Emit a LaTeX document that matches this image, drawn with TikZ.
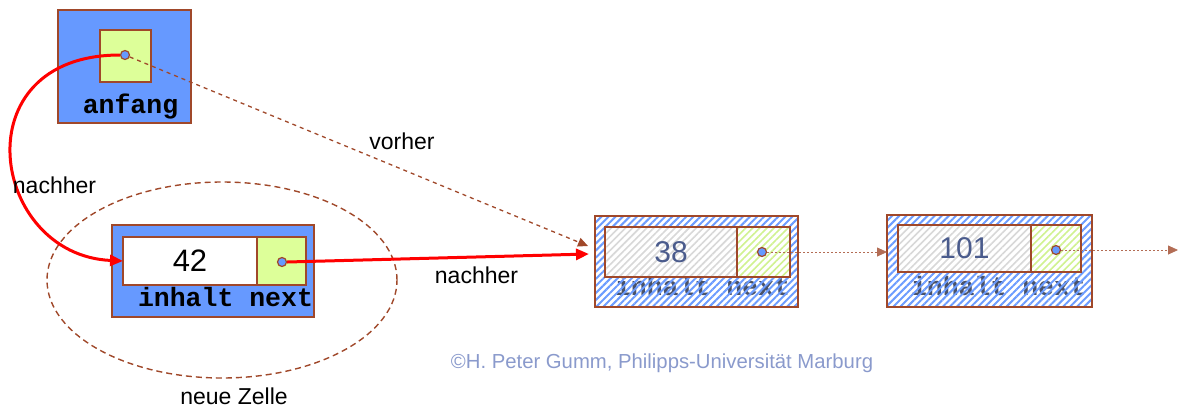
\documentclass[tikz,border=0pt]{standalone}
\usepackage{fontspec}
\setmainfont{Liberation Sans}
\newfontfamily\cour{Liberation Mono}
\usetikzlibrary{arrows.meta,patterns.meta,shapes.geometric}
\definecolor{bluefill}{HTML}{6699FF}
\definecolor{yel}{HTML}{DDFF99}
\definecolor{brn}{HTML}{A0482A}
\definecolor{slate}{HTML}{4A5B8C}
\definecolor{copyc}{HTML}{8A9ACC}
\definecolor{hgray}{HTML}{D8D8D8}
\definecolor{hblue}{HTML}{6C9CFF}
\definecolor{hgreen}{HTML}{D0F290}
\definecolor{monogray}{HTML}{4A5268}
\pgfdeclarelayer{fg}
\pgfsetlayers{main,fg}
\begin{document}
\begin{tikzpicture}[x=1pt,y=-1pt,
  box/.style={draw=brn,line width=1.3pt,rectangle,inner sep=0pt,outer sep=0pt},
  mono/.style={font=\fontsize{26.5}{30}\selectfont\bfseries\cour,inner sep=0pt,anchor=base},
  num/.style={font=\fontsize{30}{32}\selectfont},
  lbl/.style={font=\fontsize{23}{26}\selectfont,inner sep=0pt},
  dotm/.style={circle,draw=brn,fill=bluefill,line width=1.2pt,minimum size=9pt,inner sep=0pt},
  hblu/.style={pattern={Lines[angle=45,distance=5pt,line width=2pt]},pattern color=hblue},
  hgry/.style={preaction={fill=white},pattern={Lines[angle=45,distance=5pt,line width=1.6pt]},pattern color=hgray},
  hgrn/.style={preaction={fill=white},pattern={Lines[angle=45,distance=5pt,line width=1.6pt]},pattern color=hgreen},
  redarr/.style={draw=red,line width=3pt,-{Triangle[length=13pt,width=11pt]}},
  dasharr/.style={draw=brn,line width=1.3pt,dash pattern=on 4pt off 4pt,-{Triangle[length=10pt,width=9pt]}},
  dotarr/.style={draw=brn!80,line width=0.8pt,dash pattern=on 2pt off 2pt,-{Triangle[length=10pt,width=9pt]}}
]
\useasboundingbox (0,0) rectangle (1178,408);

% anfang
\node[box,fill=bluefill,minimum width=133,minimum height=113] (oa) at (124.5,66.5) {};
\node[box,fill=yel,minimum width=51,minimum height=52] (ia) at (125.5,56) {};
\node[mono] (ta) at (130.5,113) {anfang};

% new cell
\node[box,fill=bluefill,minimum width=202,minimum height=92] (o42) at (213,271) {};
\node[box,fill=white,minimum width=134,minimum height=48,num,font=\fontsize{31}{32}\selectfont] (v42) at (190,261) {42};
\node[box,fill=yel,minimum width=49,minimum height=48] (n42) at (281.5,261) {};
\node[mono] (t42) at (225.5,306.5) {inhalt next};

% cell 38
\node[mono,text=monogray] (t38) at (702.5,295) {inhalt next};
\node[box,hblu,minimum width=203,minimum height=91] (o38) at (696.5,261.5) {};
\node[box,hgry,minimum width=132,minimum height=50,num,text=slate] (v38) at (671,252) {38};
\node[box,hgrn,minimum width=53,minimum height=50] (n38) at (763.5,252) {};

% cell 101
\node[mono,text=monogray] (t101) at (998.5,295) {inhalt next};
\node[box,hblu,minimum width=205,minimum height=92] (o101) at (989.5,261) {};
\node[box,hgry,minimum width=133,minimum height=47,num,text=slate] (v101) at (964.5,248.5) {101};
\node[box,hgrn,minimum width=50,minimum height=47] (n101) at (1056,248.5) {};

% pointer dots
\begin{pgfonlayer}{fg}
\node[dotm] (da) at (125,55) {};
\node[dotm] (d42) at (282,262) {};
\node[dotm] (d38) at (762,252) {};
\node[dotm] (d101) at (1056,250) {};
\end{pgfonlayer}

\coordinate (tip38r) at (589,254);
\coordinate (tip38v) at (588,246);
\coordinate (endc) at (1178,250);

% ellipse
\node[ellipse,draw=brn,line width=1.4pt,dash pattern=on 6pt off 4pt,minimum width=350,minimum height=196,inner sep=0pt] (ell) at (222,280) {};

% connectors
\draw[dasharr] (da) -- (tip38v);
\draw[redarr] (da.west) .. controls (-40,55) and (-10,255) .. (v42.west);
\draw[redarr] (d42.east) -- (tip38r);
\draw[dotarr] (d38.east) -- (o101.west |- d38);
\draw[dotarr] (d101.east) -- (endc);

% labels
\node[lbl] (lv) at (402,141) {vorher};
\node[lbl] (ln1) at (54.5,185) {nachher};
\node[lbl] (ln2) at (476.5,275) {nachher};
\node[lbl] (lz) at (234,396) {neue Zelle};
\node[font=\fontsize{20.3}{24}\selectfont,text=copyc,inner sep=0pt] (cp) at (662,363) {©H. Peter Gumm, Philipps-Universität Marburg};
\end{tikzpicture}
\end{document}
